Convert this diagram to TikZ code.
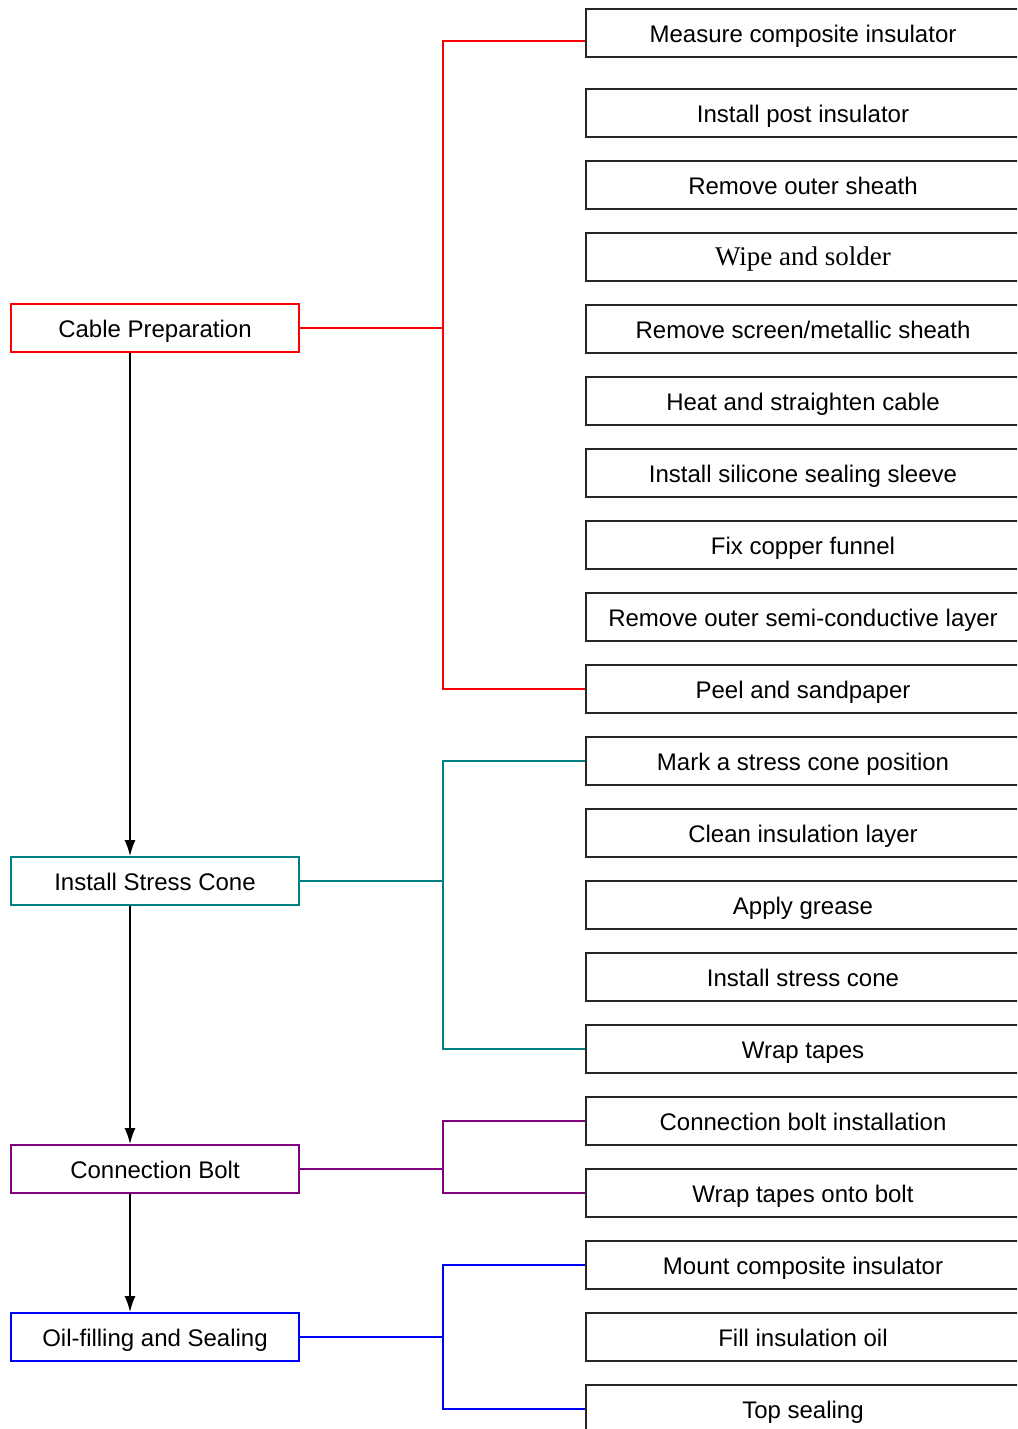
\documentclass[tikz,border=0pt]{standalone}
\usepackage{fontspec}
\setmainfont{Liberation Sans}
\newfontfamily\timesfont{Liberation Serif}
\usetikzlibrary{arrows.meta}
\definecolor{cred}{RGB}{255,0,0}
\definecolor{cteal}{RGB}{0,128,128}
\definecolor{cpurple}{RGB}{128,0,128}
\definecolor{cblue}{RGB}{0,0,255}
\tikzset{
  txt/.style={font=\fontsize{24}{28}\selectfont, text height=21.5pt, text depth=3pt},
  leftbox/.style={txt, draw, line width=1.6pt, minimum width=288pt, minimum height=48pt, inner sep=0pt},
  rightbox/.style={txt, draw=black!85, line width=2pt, minimum width=434pt, minimum height=48pt, inner sep=0pt},
  conn/.style={line width=1.6pt},
  flowarrow/.style={line width=2pt, -{Latex[length=16pt,width=11pt]}}
}
\begin{document}
\begin{tikzpicture}[x=1pt,y=-1pt]
\useasboundingbox (0,0) rectangle (1017,1429);
\clip (0,0) rectangle (1017,1429);
\fill[white] (0,0) rectangle (1017,1429);
% left column
\node[leftbox, draw=cred] (cp) at (155,328) {Cable Preparation};
\node[leftbox, draw=cteal] (sc) at (155,881) {Install Stress Cone};
\node[leftbox, draw=cpurple] (cb) at (155,1169) {Connection Bolt};
\node[leftbox, draw=cblue] (os) at (155,1337) {Oil-filling and Sealing};
% right column
\node[rightbox] (r1) at (803,33) {Measure composite insulator};
\node[rightbox] (r2) at (803,113) {Install post insulator};
\node[rightbox] (r3) at (803,185) {Remove outer sheath};
\node[rightbox, font=\timesfont\fontsize{27}{30}\selectfont, text height=23pt, text depth=5.6pt] (r4) at (803,257) {Wipe and solder};
\node[rightbox] (r5) at (803,329) {Remove screen/metallic sheath};
\node[rightbox] (r6) at (803,401) {Heat and straighten cable};
\node[rightbox] (r7) at (803,473) {Install silicone sealing sleeve};
\node[rightbox] (r8) at (803,545) {Fix copper funnel};
\node[rightbox] (r9) at (803,617) {Remove outer semi-conductive layer};
\node[rightbox] (r10) at (803,689) {Peel and sandpaper};
\node[rightbox] (r11) at (803,761) {Mark a stress cone position};
\node[rightbox] (r12) at (803,833) {Clean insulation layer};
\node[rightbox] (r13) at (803,905) {Apply grease};
\node[rightbox] (r14) at (803,977) {Install stress cone};
\node[rightbox] (r15) at (803,1049) {Wrap tapes};
\node[rightbox] (r16) at (803,1121) {Connection bolt installation};
\node[rightbox] (r17) at (803,1193) {Wrap tapes onto bolt};
\node[rightbox] (r18) at (803,1265) {Mount composite insulator};
\node[rightbox] (r19) at (803,1337) {Fill insulation oil};
\node[rightbox] (r20) at (803,1409) {Top sealing};
% junction x
\coordinate (jx) at (443,0);
\coordinate (ax) at (130,0);
% red
\draw[conn, cred] (cp.east) -- (cp.east -| jx);
\draw[conn, cred] ([yshift=-8pt]r1.west) -| (jx |- r10.west) -- (r10.west);
% teal
\draw[conn, cteal] (sc.east) -- (sc.east -| jx);
\draw[conn, cteal] (r11.west) -| (jx |- r15.west) -- (r15.west);
% purple
\draw[conn, cpurple] (cb.east) -- (cb.east -| jx);
\draw[conn, cpurple] (r16.west) -| (jx |- r17.west) -- (r17.west);
% blue
\draw[conn, cblue] (os.east) -- (os.east -| jx);
\draw[conn, cblue] (r18.west) -| (jx |- r20.west) -- (r20.west);
% flow arrows
\draw[flowarrow] (cp.south -| ax) -- (sc.north -| ax);
\draw[flowarrow] (sc.south -| ax) -- (cb.north -| ax);
\draw[flowarrow] (cb.south -| ax) -- (os.north -| ax);
\end{tikzpicture}
\end{document}
